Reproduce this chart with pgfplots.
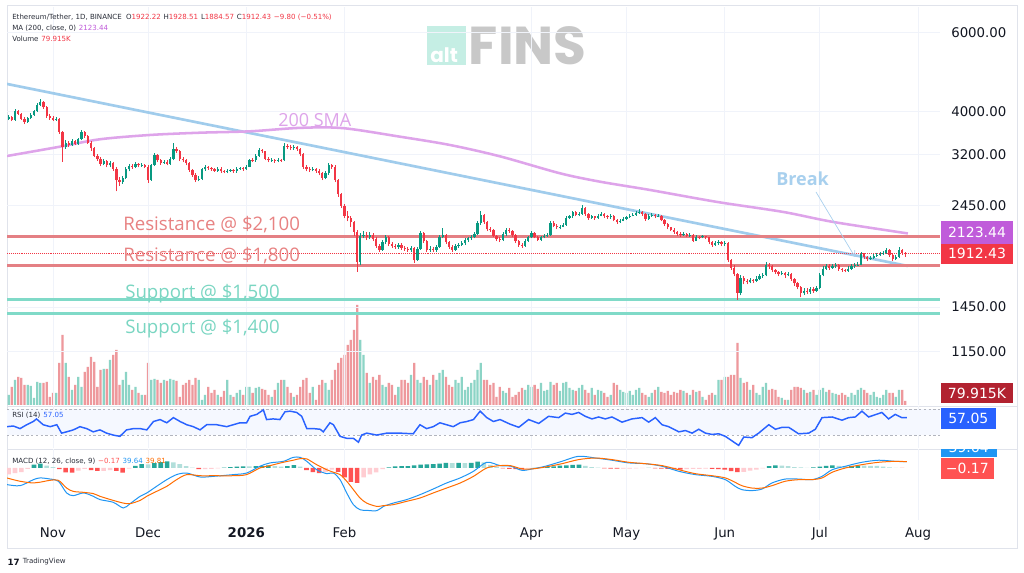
\documentclass[border=0pt]{standalone}
\usepackage{fontspec}
\setmainfont{DejaVu Sans}
\newfontfamily\osans{Open Sans}
\newfontfamily\pop{Poppins}
\usepackage{pgfplots}
\usepackage{pgfplotstable}
\pgfplotsset{compat=1.18}
\usetikzlibrary{arrows.meta}

\definecolor{up}{HTML}{089981}
\definecolor{dn}{HTML}{F23645}
\definecolor{vup}{RGB}{140,212,198}
\definecolor{vdn}{RGB}{238,152,156}
\definecolor{gridc}{HTML}{F0F3FA}
\definecolor{tline}{RGB}{160,204,236}
\definecolor{sma}{RGB}{222,164,234}
\definecolor{res}{RGB}{228,128,132}
\definecolor{sup}{RGB}{128,218,200}
\definecolor{restext}{RGB}{232,130,130}
\definecolor{suptext}{RGB}{122,214,194}
\definecolor{smabox}{RGB}{192,92,218}
\definecolor{rsi}{HTML}{2962FF}
\definecolor{rsiband}{RGB}{245,248,255}
\definecolor{macdb}{HTML}{2196F3}
\definecolor{macdo}{HTML}{FF6D00}
\definecolor{hg}{HTML}{26A69A}
\definecolor{hlg}{HTML}{B2DFDB}
\definecolor{hr}{HTML}{FF5252}
\definecolor{hlr}{HTML}{FFCDD2}
\definecolor{txt}{HTML}{131722}
\definecolor{legtxt}{HTML}{2A2E39}
\definecolor{volbox}{RGB}{178,34,48}
\definecolor{border}{HTML}{E0E3EB}
\definecolor{logobox}{RGB}{197,238,228}
\definecolor{logogray}{RGB}{200,200,200}
\definecolor{breakc}{RGB}{168,208,238}

\pgfplotstableread{
d o h l c v
-14 3850 3920 3820 3880 200
-13 3880 3900 3800 3830 360
-12 3830 4040 3810 4010 500
-11 4010 4030 3920 3950 560
-10 3950 3970 3820 3850 540
-9 3850 3880 3740 3790 400
-8 3790 3890 3770 3860 400
-7 3860 3960 3840 3930 380
-6 3930 4030 3910 4000 140
-5 4000 4180 3980 4130 460
-4 4130 4260 4100 4190 440
-3 4190 4210 4050 4080 440
-2 4080 4100 3870 3900 460
-1 3900 3940 3830 3860 160
0 3860 3900 3800 3830 240
1 3830 3880 3800 3850 240
2 3850 3870 3560 3590 840
3 3590 3610 3080 3330 1400
4 3330 3450 3290 3400 840
5 3400 3430 3320 3360 560
6 3360 3460 3340 3420 300
7 3420 3440 3350 3380 400
8 3380 3490 3360 3460 560
9 3460 3620 3440 3590 360
10 3590 3610 3490 3520 660
11 3520 3540 3380 3400 760
12 3400 3420 3260 3300 960
13 3300 3320 3150 3180 860
14 3180 3200 3090 3130 360
15 3130 3150 3010 3050 700
16 3050 3120 3020 3090 720
17 3090 3110 2990 3020 720
18 3020 3090 2990 3060 900
19 3060 3080 2940 2970 1000
20 2970 2990 2640 2800 1100
21 2800 2840 2720 2770 400
22 2770 2860 2750 2830 500
23 2830 2990 2810 2960 660
24 2960 3040 2930 3010 400
25 3010 3050 2970 3000 300
26 3000 3070 2980 3040 360
27 3040 3060 2990 3020 240
28 3020 3060 3000 3030 200
29 3030 3050 2980 3000 200
30 3000 3020 2760 2800 840
31 2800 3050 2790 3030 500
32 3030 3220 3010 3190 520
33 3190 3210 3070 3100 500
34 3100 3120 3030 3060 440
35 3060 3110 3040 3080 500
36 3080 3100 3020 3050 480
37 3050 3150 3030 3120 520
38 3120 3400 3100 3290 500
39 3290 3320 3220 3250 480
40 3250 3270 3090 3120 160
41 3120 3150 3070 3100 400
42 3100 3120 3020 3060 440
43 3060 3080 2920 2950 500
44 2950 2970 2850 2880 400
45 2880 2900 2770 2800 540
46 2800 2860 2780 2820 500
47 2820 2980 2800 2960 100
48 2960 3020 2940 2990 200
49 2990 3010 2950 2980 360
50 2980 3000 2940 2960 240
51 2960 2980 2920 2940 300
52 2940 2990 2920 2970 200
53 2970 2990 2910 2930 160
54 2930 2950 2900 2920 280
55 2920 2960 2900 2940 500
56 2940 2970 2920 2950 200
57 2950 2970 2910 2930 160
58 2930 2990 2910 2970 240
59 2970 3000 2950 2980 300
60 2980 3000 2940 2960 200
61 2960 3030 2950 3000 360
62 3000 3130 2990 3110 360
63 3110 3140 3070 3100 240
64 3100 3210 3080 3180 340
65 3180 3310 3160 3270 360
66 3270 3290 3220 3250 320
67 3250 3260 3100 3130 300
68 3130 3150 3070 3100 200
69 3100 3140 3080 3110 160
70 3110 3130 3060 3090 300
71 3090 3140 3070 3110 440
72 3110 3130 3080 3100 500
73 3100 3400 3090 3340 500
74 3340 3370 3290 3320 360
75 3320 3350 3270 3300 240
76 3300 3350 3280 3320 160
77 3320 3340 3260 3290 200
78 3290 3310 3170 3200 360
79 3200 3220 2970 3000 500
80 3000 3030 2930 2960 540
81 2960 2990 2920 2950 240
82 2950 2990 2930 2960 360
83 2960 2980 2910 2940 100
84 2940 2960 2870 2900 400
85 2900 2920 2800 2830 500
86 2830 2930 2810 2900 440
87 2900 3060 2880 3030 300
88 3030 3050 2970 3000 500
89 3000 3020 2770 2800 700
90 2800 2820 2570 2600 840
91 2600 2620 2420 2450 940
92 2450 2470 2300 2330 1000
93 2330 2380 2260 2300 1200
94 2300 2330 2200 2250 1300
95 2250 2270 2100 2140 1500
96 2140 2160 1740 1830 2000
97 1830 2130 1800 2100 1300
98 2100 2150 2070 2110 1000
99 2110 2140 2050 2080 640
100 2080 2140 2060 2110 440
101 2110 2130 2040 2060 560
102 2060 2080 1970 1990 500
103 1990 2010 1930 1950 600
104 1950 2050 1940 2030 400
105 2030 2110 2010 2090 360
106 2090 2100 1990 2010 440
107 2010 2030 1970 1990 400
108 1990 2010 1960 1980 200
109 1980 2020 1960 2000 360
110 2000 2020 1950 1970 500
111 1970 1990 1940 1960 500
112 1960 1980 1930 1950 440
113 1950 1990 1930 1970 600
114 1970 1980 1820 1850 840
115 1850 1980 1840 1960 500
116 1960 2150 1950 2130 440
117 2130 2140 2020 2040 560
118 2040 2050 1930 1950 500
119 1950 1990 1930 1960 400
120 1960 1980 1930 1950 600
121 1950 2000 1930 1980 500
122 1980 2110 1970 2090 640
123 2090 2180 2070 2110 700
124 2110 2120 2010 2030 560
125 2030 2040 1960 1980 400
126 1980 2000 1930 1950 360
127 1950 2010 1940 1990 500
128 1990 2020 1970 2000 440
129 2000 2040 1990 2020 560
130 2020 2070 2000 2050 300
131 2050 2090 2030 2070 360
132 2070 2110 2050 2090 440
133 2090 2140 2070 2120 500
134 2120 2260 2110 2240 700
135 2240 2380 2220 2340 840
136 2340 2350 2230 2250 500
137 2250 2260 2150 2170 500
138 2170 2190 2140 2160 400
139 2160 2170 2080 2100 440
140 2100 2110 2040 2060 160
141 2060 2080 2030 2050 360
142 2050 2140 2040 2120 280
143 2120 2180 2100 2160 240
144 2160 2180 2130 2150 340
145 2150 2160 2090 2110 160
146 2110 2120 2020 2040 200
147 2040 2050 1980 2000 260
148 2000 2020 1970 1990 340
149 1990 2060 1980 2040 300
150 2040 2100 2030 2080 400
151 2080 2150 2070 2130 360
152 2130 2140 2070 2090 400
153 2090 2100 2040 2055 320
154 2055 2100 2040 2080 440
155 2080 2120 2070 2100 280
156 2100 2130 2090 2110 300
157 2110 2260 2100 2240 460
158 2240 2260 2190 2210 400
159 2210 2230 2170 2190 440
160 2190 2220 2170 2200 280
161 2200 2240 2190 2220 440
162 2220 2320 2210 2300 460
163 2300 2340 2290 2320 340
164 2320 2390 2300 2370 300
165 2370 2380 2320 2340 280
166 2340 2370 2320 2350 340
167 2350 2460 2340 2420 400
168 2420 2430 2330 2350 300
169 2350 2360 2280 2300 240
170 2300 2340 2290 2320 340
171 2320 2330 2280 2300 200
172 2300 2350 2290 2330 300
173 2330 2370 2320 2350 280
174 2350 2360 2300 2320 240
175 2320 2340 2290 2310 160
176 2310 2350 2290 2330 200
177 2330 2340 2260 2280 440
178 2280 2290 2230 2250 400
179 2250 2290 2240 2270 300
180 2270 2310 2260 2290 260
181 2290 2330 2280 2310 240
182 2310 2350 2300 2330 280
183 2330 2360 2320 2340 200
184 2340 2380 2330 2360 300
185 2360 2410 2350 2370 340
186 2370 2380 2330 2350 240
187 2350 2360 2270 2290 200
188 2290 2350 2280 2330 160
189 2330 2360 2310 2340 240
190 2340 2350 2300 2320 300
191 2320 2350 2310 2330 360
192 2330 2340 2260 2280 260
193 2280 2290 2210 2230 240
194 2230 2240 2170 2190 280
195 2190 2200 2150 2165 200
196 2165 2180 2120 2140 260
197 2140 2150 2100 2120 240
198 2120 2140 2090 2110 300
199 2110 2140 2100 2120 280
200 2120 2130 2080 2100 240
201 2100 2130 2090 2110 200
202 2110 2120 2030 2045 300
203 2045 2110 2040 2090 260
204 2090 2100 2060 2080 280
205 2080 2110 2070 2095 160
206 2095 2100 2060 2080 100
207 2080 2090 2010 2030 200
208 2030 2040 1980 2000 240
209 2000 2040 1990 2020 200
210 2020 2050 2000 2030 500
211 2030 2040 1990 2010 500
212 2010 2040 1990 2020 560
213 2020 2030 1830 1850 560
214 1850 1860 1760 1780 600
215 1780 1800 1700 1720 600
216 1720 1730 1507 1560 1240
217 1560 1710 1540 1690 540
218 1690 1700 1630 1660 440
219 1660 1680 1630 1650 460
220 1650 1690 1640 1670 300
221 1670 1680 1640 1660 400
222 1660 1700 1650 1680 240
223 1680 1720 1670 1700 200
224 1700 1730 1690 1710 360
225 1710 1830 1700 1806 440
226 1806 1820 1770 1790 300
227 1790 1800 1740 1760 320
228 1760 1770 1720 1740 300
229 1740 1750 1700 1720 160
230 1720 1750 1710 1730 140
231 1730 1740 1690 1710 100
232 1710 1740 1700 1720 100
233 1720 1730 1660 1680 300
234 1680 1690 1620 1640 360
235 1640 1650 1590 1610 360
236 1610 1620 1525 1560 340
237 1560 1600 1545 1580 300
238 1580 1600 1550 1570 240
239 1570 1610 1555 1590 260
240 1590 1610 1560 1580 300
241 1580 1620 1570 1600 200
242 1600 1730 1590 1715 300
243 1715 1790 1700 1770 340
244 1770 1810 1760 1790 260
245 1790 1810 1760 1780 300
246 1780 1810 1770 1790 240
247 1790 1820 1780 1800 220
248 1800 1810 1750 1770 200
249 1770 1780 1740 1760 240
250 1760 1770 1735 1750 200
251 1750 1790 1740 1770 160
252 1770 1810 1760 1790 240
253 1790 1820 1780 1800 200
254 1800 1830 1790 1806 300
255 1806 1930 1800 1912 340
256 1912 1920 1860 1880 300
257 1880 1890 1840 1860 240
258 1860 1890 1850 1870 200
259 1870 1910 1860 1890 260
260 1890 1920 1880 1900 160
261 1900 1930 1890 1910 140
262 1910 1940 1900 1920 200
263 1920 1970 1910 1950 300
264 1950 1960 1880 1900 240
265 1900 1910 1840 1860 240
266 1860 1900 1850 1880 160
267 1880 1975 1870 1950 300
268 1950 1960 1900 1922.22 300
269 1922.22 1928.51 1884.57 1912.43 80
}\candles

\pgfplotstableread{
d r
-14.6 43
-12.5 44
-10.4 40
-8.3 46
-6.2 51
-5.2 55
-3.1 46
-0.9 43
1.2 46
2.7 33
4.3 35
6.4 38
8.5 43
10.6 40
12.7 35
14.8 38
16.9 33
19.0 30
21.1 28
23.2 38
25.4 40
27.5 40
29.6 38
31.7 51
33.8 54
35.9 49
38.0 57
40.1 51
42.2 46
44.3 43
46.4 38
48.5 46
51.7 46
54.8 43
56.9 46
59.0 49
61.1 49
62.2 59
64.3 62
66.4 69
67.4 54
69.5 55
71.6 54
73.2 66
74.8 67
76.9 65
78.5 59
80.1 40
82.2 40
84.3 39
85.3 35
87.4 49
88.5 46
90.6 28
92.7 25
94.8 25
96.4 19
97.4 30
99.0 33
102.2 30
105.3 33
109.5 33
113.7 32
115.8 46
117.9 40
120.0 43
122.1 49
124.2 46
126.3 43
128.5 49
130.6 51
132.7 54
134.8 67
136.9 57
139.0 51
141.1 54
144.2 47
147 42
150.1 54
153.3 48
156.4 59
159.6 57
161.7 64
163.8 62
165.9 65
168 59
170.1 55
172.2 58
174.3 55
176.4 58
179.6 50
182.7 55
185.9 57
188 50
190.1 57
192.2 46
194.3 43
197.5 35
199.6 37
201.7 33
203.8 39
205.9 33
208 31
210.1 32
212.2 28
214.3 21
216.4 14
218 27
220.6 26
222.7 33
225.9 46
228 39
230.1 42
232.2 42
235.3 32
238.5 33
240.6 39
242.7 57
245.9 58
249 53
251.1 57
253.2 58
255.3 67
257.4 58
261.6 65
263.7 55
265.8 62
267.9 57
269.5 57.05
}\rsitab

\pgfplotstableread{
d m s
-14.6 -105 -63
-10.4 -112 -84
-6.2 -74 -95
-4.1 -63 -90
-0.9 -70 -78
1.7 -84 -78
4.3 -158 -127
6.4 -175 -148
9.6 -158 -154
12.7 -179 -162
14.8 -200 -179
19.0 -217 -205
22.2 -253 -222
24.3 -226 -226
27.5 -179 -205
29.6 -158 -179
32.7 -116 -148
35.9 -74 -116
39.0 -42 -74
42.2 -32 -42
46.4 -57 -49
50.6 -53 -49
56.9 -42 -49
61.1 -32 -42
65.3 11 0
68.5 32 15
72.7 42 36
75.8 67 49
78.0 67 59
80.1 42 57
83.2 -11 21
86.4 -36 -11
88.5 -32 -27
90.6 -74 -42
92.7 -158 -84
94.8 -232 -137
96.9 -264 -190
99.0 -268 -222
102.2 -270 -243
104.3 -243 -238
107.4 -222 -232
111.6 -200 -211
115.8 -169 -190
120.0 -133 -158
124.2 -95 -127
128.5 -63 -95
132.7 -21 -53
136.9 36 0
141.1 15 15
144.5 11 14
148 -15 -6
151.2 -6 -6
155.4 11 6
160.6 42 27
165.9 74 53
171.2 63 63
176.4 49 53
181.7 32 36
187 27 27
192.2 11 15
197.5 -21 -11
202.7 -42 -36
208 -53 -49
212.2 -74 -63
215.3 -116 -91
217.4 -137 -112
220.6 -143 -127
223.8 -133 -127
226.9 -95 -112
231.1 -70 -84
235.3 -70 -74
239.5 -74 -74
242.7 -53 -63
245.9 -11 -27
250.1 11 0
255.3 36 21
260.6 49 36
265.8 42 42
269.5 39.64 39.81
}\macdtab

\pgfplotstableread{
d hv t
-14 -40 3
-12 -33 3
-10 -26 3
-8 -5 3
-6 21 0
-4 27 0
-2 15 1
0 5 1
2 -8 2
4 -28 2
6 -30 2
8 -16 3
10 -6 3
12 -14 2
14 -19 2
16 -18 3
18 -14 3
20 -18 2
22 -30 2
24 -4 3
26 14 0
28 25 0
30 22 1
32 30 0
34 37 0
36 42 0
38 36 1
40 25 1
42 11 1
44 2 1
46 -7 2
48 -7 3
50 -5 3
52 -2 3
54 2 0
56 6 0
58 8 0
60 10 0
62 10 1
64 11 0
66 13 0
68 17 0
70 12 1
72 8 1
74 12 0
76 18 0
78 8 1
80 -14 2
82 -26 2
84 -32 2
86 -26 3
88 -10 3
90 -24 2
92 -60 2
94 -88 2
96 -95 2
98 -60 3
100 -40 3
102 -28 3
104 -8 3
106 4 0
108 10 0
110 11 0
112 12 0
114 17 0
116 21 0
118 23 0
120 25 0
122 28 0
124 32 0
126 31 1
128 32 0
130 30 1
132 32 0
134 40 0
136 36 1
138 20 1
140 5 1
142 -2 2
144 -5 2
146 -7 2
148 -9 2
150 -3 3
152 1 0
154 3 0
156 6 0
158 10 0
160 15 0
162 17 0
164 20 0
166 21 0
168 14 1
170 5 1
172 2 1
174 -2 2
176 -4 2
178 -4 2
180 -4 3
182 -4 3
184 -2 3
186 -1 3
188 1 0
190 -2 2
192 -4 2
194 -6 2
196 -9 2
198 -10 2
200 -8 3
202 -6 3
204 -5 3
206 -4 3
208 -5 2
210 -8 2
212 -11 2
214 -20 2
216 -27 2
218 -24 3
220 -17 3
222 -11 3
224 -3 3
226 12 0
228 17 0
230 15 1
232 12 1
234 6 1
236 3 1
238 1 1
240 3 0
242 9 0
244 14 0
246 16 0
248 13 1
250 11 1
252 13 0
254 15 0
256 15 1
258 14 1
260 13 1
262 9 1
264 4 1
266 1 1
268 -0.17 2
}\histtab

\pgfplotsset{
  pane/.style={
    scale only axis, width=699.75pt, xmin=-14.52, xmax=279.94,
    axis line style={draw=none}, tick style={draw=none},
    major tick length=0pt, minor tick length=0pt,
    xtick={0,30,61,92,151,181,212,242,273}, xticklabels={},
    xmajorgrids, grid style={color=gridc, line width=0.75pt},
    tick label style={font=\fontsize{10}{12}\selectfont, text=txt},
  },
  candle/.style n args={2}{draw=none, mark=none, forget plot,
    error bars/.cd, y dir=plus, y explicit, error mark=none,
    error bar style={draw=#1, solid, line width=#2}},
}

\begin{document}
\begin{tikzpicture}
\fill[white] (0,0) rectangle (768pt,429.75pt);
\draw[color=border, line width=0.75pt] (5.25pt,18pt) rectangle (762.75pt,425.25pt);
\draw[color=border, line width=0.6pt] (5.25pt,125.25pt) -- (762.75pt,125.25pt);
\draw[color=border, line width=0.6pt] (5.25pt,93pt) -- (762.75pt,93pt);

% logo watermark
\fill[logobox] (320.25pt,381pt) rectangle (349.5pt,410.25pt);
\node[anchor=base west, inner sep=0pt, text=white, font=\pop\bfseries\fontsize{15}{16}\selectfont] at (322.5pt,383pt) {alt};
\node[anchor=base west, inner sep=0pt, text=logogray, font=\pop\bfseries\fontsize{40}{44}\selectfont] at (351.5pt,381pt) {FINS};

% volume overlay
\begin{axis}[pane, at={(5.25pt,126pt)}, anchor=south west, height=75pt,
  ymin=0, ymax=2000, ytick=\empty, xmajorgrids=false]
\addplot[ybar, bar width=1.7pt, bar shift=0pt, fill=vup, draw=none,
  restrict expr to domain={\thisrow{c}-\thisrow{o}}{0:100000}] table[x=d,y=v]{\candles};
\addplot[ybar, bar width=1.7pt, bar shift=0pt, fill=vdn, draw=none,
  restrict expr to domain={\thisrow{o}-\thisrow{c}}{0.0001:100000}] table[x=d,y=v]{\candles};
\end{axis}

% price pane
\begin{axis}[pane, at={(5.25pt,126pt)}, anchor=south west, height=298.5pt,
  ymode=log, ymin=873.2, ymax=6865,
  ytick={1150,1450,2450,3200,4000,6000},
  yticklabels={1150.00,1450.00,2450.00,3200.00,4000.00,6000.00},
  ymajorgrids, yminorticks=false, yticklabel pos=right,
  yticklabel style={anchor=west, inner sep=0pt, xshift=8.25pt}]
\addplot[tline, line width=2pt] coordinates {(-14.52,4607) (269.8,1794)};
\addplot[sma, line width=1.9pt, smooth] coordinates {(-14.5,3172) (2.2,3329) (14.8,3459) (30.6,3537) (46.4,3579) (62.2,3605) (78,3670) (91.5,3665) (109.5,3506) (125.3,3358) (141.1,3166) (160,2900) (172.6,2777) (188.4,2660) (209.6,2500) (230.4,2374) (246.2,2254) (269.8,2123.44)};
\addplot[res, line width=2.2pt] coordinates {(-14.52,2090) (279.94,2090)};
\addplot[res, line width=2.2pt] coordinates {(-14.52,1797) (279.94,1797)};
\addplot[sup, line width=2.2pt] coordinates {(-14.52,1505) (279.94,1505)};
\addplot[sup, line width=2.2pt] coordinates {(-14.52,1405) (279.94,1405)};
\addplot[dn, densely dotted, line width=0.45pt] coordinates {(-14.52,1912.43) (279.94,1912.43)};
% wicks
\addplot[restrict expr to domain={\thisrow{c}-\thisrow{o}}{0:100000},
  candle={up}{0.6pt}]
  table[x=d, y=l, y error plus expr=\thisrow{h}-\thisrow{l}]{\candles};
\addplot[restrict expr to domain={\thisrow{o}-\thisrow{c}}{0.0001:100000},
  candle={dn}{0.6pt}]
  table[x=d, y=l, y error plus expr=\thisrow{h}-\thisrow{l}]{\candles};
% bodies
\addplot[restrict expr to domain={\thisrow{c}-\thisrow{o}}{0:100000},
  candle={up}{1.7pt}]
  table[x=d, y=o, y error plus expr=\thisrow{c}-\thisrow{o}]{\candles};
\addplot[restrict expr to domain={\thisrow{o}-\thisrow{c}}{0.0001:100000},
  candle={dn}{1.7pt}]
  table[x=d, y=c, y error plus expr=\thisrow{o}-\thisrow{c}]{\candles};
\end{axis}

% RSI pane
\begin{axis}[pane, at={(5.25pt,93.75pt)}, anchor=south west, height=31.5pt,
  ymin=10, ymax=75, ytick=\empty]
\addplot[draw=none, fill=rsiband] coordinates {(-14.52,30) (279.94,30) (279.94,70) (-14.52,70)} -- cycle;
\addplot[color={rgb,255:red,178;green,181;blue,190}, line width=0.6pt, dash pattern=on 1.8pt off 1.8pt] coordinates {(-14.52,70) (279.94,70)};
\addplot[color={rgb,255:red,178;green,181;blue,190}, line width=0.6pt, dash pattern=on 1.8pt off 1.8pt] coordinates {(-14.52,30) (279.94,30)};
\addplot[rsi, line width=1.1pt] table[x=d,y=r]{\rsitab};
\end{axis}

% MACD pane
\begin{axis}[pane, at={(5.25pt,39.75pt)}, anchor=south west, height=53.25pt,
  ymin=-329, ymax=120, ytick=\empty,
  xticklabels={Nov,Dec,\textbf{2026},Feb,Apr,May,Jun,Jul,Aug},
  xticklabel style={yshift=-2pt}]
\addplot[ybar, bar width=3.4pt, bar shift=0pt, fill=hg, draw=none,
  restrict expr to domain={\thisrow{t}}{-0.5:0.5}] table[x=d,y=hv]{\histtab};
\addplot[ybar, bar width=3.4pt, bar shift=0pt, fill=hlg, draw=none,
  restrict expr to domain={\thisrow{t}}{0.5:1.5}] table[x=d,y=hv]{\histtab};
\addplot[ybar, bar width=3.4pt, bar shift=0pt, fill=hr, draw=none,
  restrict expr to domain={\thisrow{t}}{1.5:2.5}] table[x=d,y=hv]{\histtab};
\addplot[ybar, bar width=3.4pt, bar shift=0pt, fill=hlr, draw=none,
  restrict expr to domain={\thisrow{t}}{2.5:3.5}] table[x=d,y=hv]{\histtab};
\addplot[macdb, line width=0.75pt, smooth] table[x=d,y=m]{\macdtab};
\addplot[macdo, line width=0.75pt, smooth] table[x=d,y=s]{\macdtab};
\end{axis}

% annotations
\node[anchor=west, inner sep=0pt, text=restext, font=\osans\fontsize{14}{16}\selectfont] at (92.25pt,261.5pt) {Resistance @ \$2,100};
\node[anchor=west, inner sep=0pt, text=restext, font=\osans\fontsize{14}{16}\selectfont] at (92.25pt,238.25pt) {Resistance @ \$1,800};
\node[anchor=west, inner sep=0pt, text=suptext, font=\osans\fontsize{14}{16}\selectfont] at (93.75pt,209.75pt) {Support @ \$1,500};
\node[anchor=west, inner sep=0pt, text=suptext, font=\osans\fontsize{14}{16}\selectfont] at (93.75pt,183.5pt) {Support @ \$1,400};
\node[anchor=west, inner sep=0pt, text=sma, font=\osans\fontsize{13.5}{15}\selectfont] at (208.5pt,339.5pt) {200 SMA};
\node[anchor=west, inner sep=0pt, text=breakc, font=\osans\bfseries\fontsize{13.5}{15}\selectfont] at (582pt,295.5pt) {Break};
\draw[breakc, line width=0.5pt, -{Straight Barb[length=4pt,width=5pt]}] (612pt,285.75pt) -- (641.25pt,237pt);

% right scale boxes
\fill[smabox] (705.5pt,247pt) rectangle (760pt,264pt);
\node[text=white, font=\fontsize{10.5}{12}\selectfont] at (732.75pt,255.5pt) {2123.44};
\fill[dn] (705.5pt,232pt) rectangle (760pt,247pt);
\node[text=white, font=\fontsize{10.5}{12}\selectfont] at (732.75pt,239.5pt) {1912.43};
\fill[volbox] (705.5pt,127.5pt) rectangle (760pt,142.5pt);
\node[text=white, font=\fontsize{10.5}{12}\selectfont] at (732.75pt,135pt) {79.915K};
\fill[rsi] (705.5pt,108pt) rectangle (747pt,123.75pt);
\node[text=white, font=\fontsize{10.5}{12}\selectfont] at (726.25pt,115.9pt) {57.05};
\begin{scope}
\clip (705pt,87pt) rectangle (748pt,93pt);
\fill[macdb] (705.5pt,80pt) rectangle (747.5pt,93pt);
\node[text=white, font=\fontsize{10.5}{12}\selectfont] at (726.5pt,94pt) {39.64};
\end{scope}
\fill[hr] (705.5pt,70.5pt) rectangle (745.5pt,86.25pt);
\node[text=white, font=\fontsize{10.5}{12}\selectfont] at (725.5pt,78.4pt) {\textminus0.17};

% legends
\node[anchor=west, inner sep=0pt, text=legtxt, font=\fontsize{5.3}{6}\selectfont] at (9pt,417pt) {Ethereum/Tether, 1D, BINANCE\hspace{0.6em}O\textcolor{dn}{1922.22}\hspace{0.4em}H\textcolor{dn}{1928.51}\hspace{0.4em}L\textcolor{dn}{1884.57}\hspace{0.4em}C\textcolor{dn}{1912.43}\hspace{0.4em}\textcolor{dn}{−9.80 (−0.51\%)}};
\node[anchor=west, inner sep=0pt, text=legtxt, font=\fontsize{5.3}{6}\selectfont] at (9pt,408.75pt) {MA (200, close, 0)\hspace{0.4em}\textcolor{smabox}{2123.44}};
\node[anchor=west, inner sep=0pt, text=legtxt, font=\fontsize{5.3}{6}\selectfont] at (9pt,400.5pt) {Volume\hspace{0.4em}\textcolor{dn}{79.915K}};
\node[anchor=west, inner sep=0pt, text=legtxt, font=\fontsize{5.3}{6}\selectfont] at (9pt,118.5pt) {RSI (14)\hspace{0.4em}\textcolor{rsi}{57.05}};
\node[anchor=west, inner sep=0pt, text=legtxt, font=\fontsize{5.3}{6}\selectfont] at (9pt,84pt) {MACD (12, 26, close, 9)\hspace{0.4em}\textcolor{hr}{−0.17}\hspace{0.4em}\textcolor{macdb}{39.64}\hspace{0.4em}\textcolor{macdo}{39.81}};
\node[anchor=west, inner sep=0pt, text=txt, font=\bfseries\fontsize{6.5}{7}\selectfont] at (5.5pt,8.25pt) {17};
\node[anchor=west, inner sep=0pt, text=legtxt, font=\fontsize{5.3}{6}\selectfont] at (17pt,8.25pt) {TradingView};
\end{tikzpicture}
\end{document}
